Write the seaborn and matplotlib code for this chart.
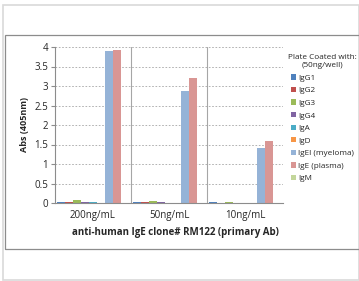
import matplotlib
matplotlib.use("Agg")
import matplotlib.pyplot as plt
import seaborn as sns
import pandas as pd
from matplotlib.patches import Rectangle

categories = ["200ng/mL", "50ng/mL", "10ng/mL"]
series = ["IgG1", "IgG2", "IgG3", "IgG4", "IgA", "IgD", "IgEl (myeloma)", "IgE (plasma)", "IgM"]
values = {
    "IgG1": [0.025, 0.015, 0.015],
    "IgG2": [0.02, 0.015, 0.01],
    "IgG3": [0.07, 0.05, 0.025],
    "IgG4": [0.025, 0.015, 0.01],
    "IgA": [0.015, 0.01, 0.01],
    "IgD": [0.01, 0.01, 0.01],
    "IgEl (myeloma)": [3.90, 2.88, 1.40],
    "IgE (plasma)": [3.92, 3.20, 1.60],
    "IgM": [0.01, 0.01, 0.01],
}
colors = ["#4F81BD", "#C0504D", "#9BBB59", "#8064A2", "#4BACC6", "#F79646",
          "#95B3D7", "#D99694", "#C3D69B"]

rows = []
for s in series:
    for c, v in zip(categories, values[s]):
        rows.append({"cat": c, "series": s, "val": v})
df = pd.DataFrame(rows)

sns.set_style("white")
plt.rcParams["font.family"] = ["Open Sans", "DejaVu Sans"]

fig = plt.figure(figsize=(3.59, 2.81), dpi=100)
# outer frames
fig.patches.append(Rectangle((3/359, 1-280/281), 356/359, 275/281, transform=fig.transFigure,
                             fill=False, edgecolor="#d9d9d9", linewidth=1.2))
fig.patches.append(Rectangle((5/359, 1-249/281), 360/359, 214/281, transform=fig.transFigure,
                             fill=False, edgecolor="#8c8c8c", linewidth=0.9))

ax = fig.add_axes([55/359, 1-203/281, 228/359, 156/281])
sns.barplot(data=df, x="cat", y="val", hue="series", hue_order=series, order=categories,
            palette=colors, width=0.95, ax=ax, legend=True, saturation=1, linewidth=0)

ax.set_ylim(0, 4)
ax.set_xlim(-0.5, 2.5)
ax.set_yticks([0, 0.5, 1, 1.5, 2, 2.5, 3, 3.5, 4])
ax.set_yticklabels(["0", "0.5", "1", "1.5", "2", "2.5", "3", "3.5", "4"])
ax.yaxis.grid(True, linestyle=(0, (2, 2)), color="#a6a6a6", linewidth=0.6)
ax.set_axisbelow(True)
for x in [0.5, 1.5]:
    ax.axvline(x, color="#a6a6a6", linewidth=0.8, zorder=0)
ax.axvline(2.5, color="#bfbfbf", linewidth=0.6, linestyle=(0, (2, 2)), zorder=0)
for sp in ["top", "right"]:
    ax.spines[sp].set_visible(False)
for sp in ["left", "bottom"]:
    ax.spines[sp].set_color("#8c8c8c")
    ax.spines[sp].set_linewidth(0.8)
ax.tick_params(axis="y", labelsize=7, length=3, color="#8c8c8c", left=True, pad=2)
ax.tick_params(axis="x", labelsize=7, length=0, pad=5)
ax.set_ylabel("Abs (405nm)", fontsize=6.5, fontweight="bold", labelpad=4)
ax.set_xlabel("anti-human IgE clone# RM122 (primary Ab)", fontsize=7, fontweight="bold", labelpad=4)
ax.xaxis.set_label_coords(0.53, -0.155)

handles, labels = ax.get_legend_handles_labels()
leg = ax.legend(handles, labels, title="Plate Coated with:\n(50ng/well)", loc="upper left",
                bbox_to_anchor=(1.0, 0.985), frameon=False, fontsize=5.9, title_fontsize=5.9,
                handlelength=0.6, handleheight=0.6, handletextpad=0.3, labelspacing=0.62,
                borderaxespad=0.2)
leg.get_title().set_multialignment("center")

fig.savefig("out.png", dpi=100)
